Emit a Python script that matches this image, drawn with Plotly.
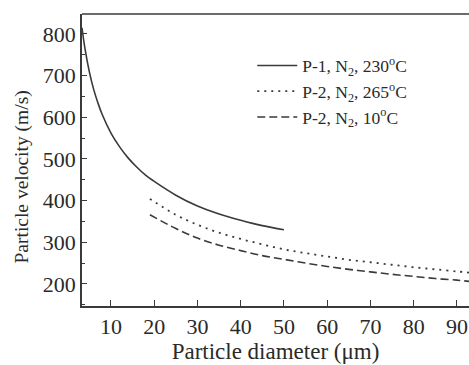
import plotly.graph_objects as go

# Data
d_p1 = [3.3, 4, 5, 6, 7, 8, 10, 12, 14, 16, 18, 20, 25, 30, 35, 40, 45, 50]
v_p1 = [815, 764, 709, 667, 634, 606, 562, 529, 502, 480, 461, 446, 413, 387, 368, 353, 340, 330]

d_p2_hot = [19, 25, 30, 35, 40, 45, 50, 55, 60, 65, 70, 75, 80, 85, 90, 92.8]
v_p2_hot = [404, 366, 342, 323, 308, 295, 283, 274, 266, 258, 252, 246, 240, 235, 230, 227]

d_p2_cold = [19, 25, 30, 35, 40, 45, 50, 55, 60, 65, 70, 75, 80, 85, 90, 92.8]
v_p2_cold = [366, 333, 310, 293, 280, 268, 259, 250, 242, 235, 229, 223, 218, 213, 209, 206]

names = ["P-1, N<sub>2</sub>, 230<sup>o</sup>C",
         "P-2, N<sub>2</sub>, 265<sup>o</sup>C",
         "P-2, N<sub>2</sub>, 10<sup>o</sup>C"]

x_ticks = [10, 20, 30, 40, 50, 60, 70, 80, 90]
y_ticks = [200, 300, 400, 500, 600, 700, 800]

col = "#3a3a3a"
FONT = "Liberation Serif, Times New Roman, serif"

fig = go.Figure()
fig.add_trace(go.Scatter(x=d_p1, y=v_p1, mode="lines", name=names[0],
                         line=dict(color=col, width=1.6, shape="spline")))
fig.add_trace(go.Scatter(x=d_p2_hot, y=v_p2_hot, mode="lines", name=names[1],
                         line=dict(color=col, width=1.8, dash="2px,5px", shape="spline")))
fig.add_trace(go.Scatter(x=d_p2_cold, y=v_p2_cold, mode="lines", name=names[2],
                         line=dict(color=col, width=1.6, dash="8px,4px", shape="spline")))

fig.update_layout(
    width=469, height=365,
    margin=dict(l=82, r=0, t=14, b=59),
    paper_bgcolor="white", plot_bgcolor="white",
    font=dict(family=FONT, size=22, color="#2a2a2a"),
    showlegend=True,
    legend=dict(x=0.44, y=0.885, xanchor="left", yanchor="top",
                bgcolor="rgba(0,0,0,0)", font=dict(size=17.5),
                tracegroupgap=0, itemwidth=40),
    xaxis=dict(range=[3.3, 92.8], tickvals=x_ticks, ticks="inside", ticklen=6,
               tickwidth=1.2, tickcolor=col, showline=True, linecolor=col,
               linewidth=1.5, mirror=False, showgrid=False, zeroline=False,
               tickfont=dict(size=22),
               title=dict(text="Particle diameter (μm)", font=dict(size=23), standoff=3)),
    yaxis=dict(range=[147, 848], tickvals=y_ticks, ticks="inside", ticklen=5,
               tickwidth=1.2, tickcolor=col, showline=True, linecolor=col,
               linewidth=1.5, showgrid=False, zeroline=False,
               tickfont=dict(size=22),
               minor=dict(dtick=50, tick0=0, ticks="inside", ticklen=3, tickcolor=col, showgrid=False)),
    annotations=[dict(text="Particle velocity (m/s)", textangle=-90, showarrow=False,
                      xref="paper", yref="paper", x=-0.155, y=0.44,
                      xanchor="center", yanchor="middle", font=dict(size=19.5))],
)
# top border line
fig.add_shape(type="line", xref="paper", yref="paper", x0=0, x1=1, y0=1, y1=1,
              line=dict(color=col, width=1.5))

fig.write_html("out.html")
